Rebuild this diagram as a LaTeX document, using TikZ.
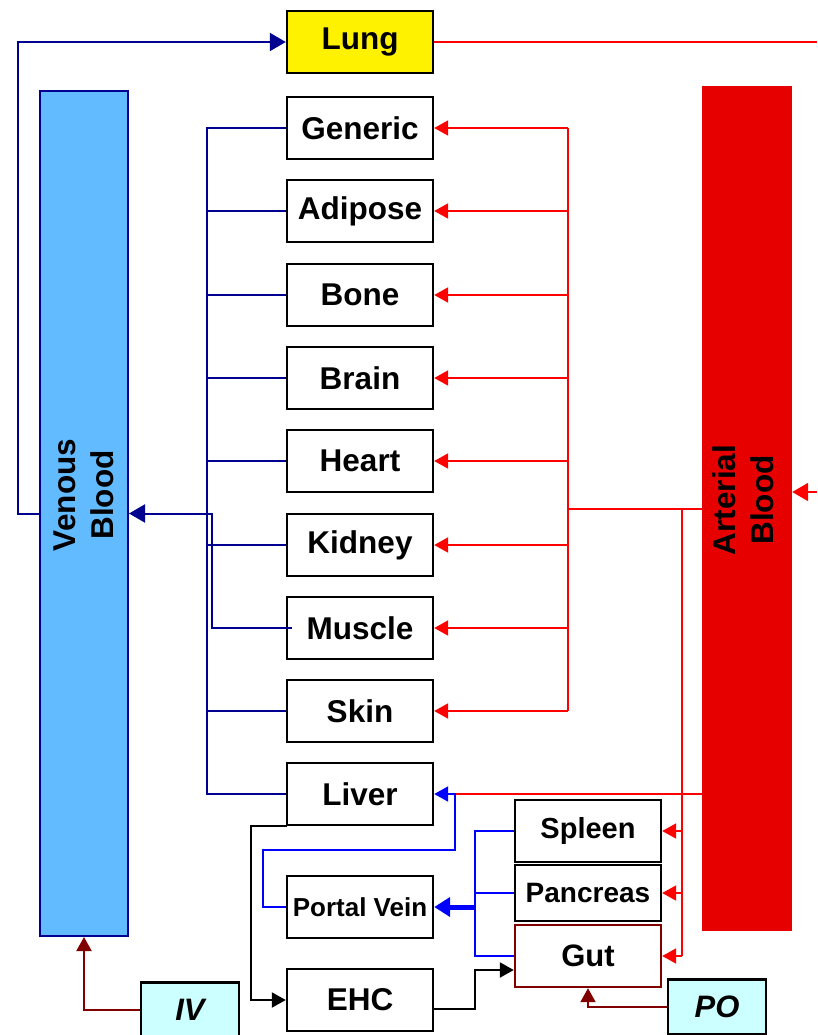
\documentclass[tikz,border=0pt]{standalone}
\usepackage{fontspec}
\setmainfont{Liberation Sans}
\usetikzlibrary{arrows.meta}
\definecolor{navyline}{RGB}{0,0,144}
\definecolor{redline}{RGB}{255,0,0}
\definecolor{blueline}{RGB}{0,0,255}
\definecolor{darkred}{RGB}{128,0,0}
\definecolor{venfill}{RGB}{99,187,255}
\definecolor{artfill}{RGB}{230,0,0}
\definecolor{cyanfill}{RGB}{204,255,255}
\begin{document}
\begin{tikzpicture}[x=1pt,y=-1pt,
  organ/.style={draw=black, line width=2.4pt, fill=white, minimum width=146pt, minimum height=62pt, inner sep=0pt, font=\fontsize{31.5}{36}\selectfont\bfseries},
  small/.style={organ, font=\fontsize{29}{34}\selectfont\bfseries},
  route/.style={draw=black, line width=2.4pt, fill=cyanfill, minimum width=98pt, minimum height=55pt, inner sep=0pt, font=\fontsize{31}{36}\selectfont\bfseries\itshape},
  pool/.style={inner sep=0pt, align=center, font=\fontsize{31.5}{38}\selectfont\bfseries},
  tip/.tip={Triangle[length=14pt,width=15pt]},
  bigtip/.tip={Triangle[length=16pt,width=18pt]},
  ven/.style={draw=navyline, line width=2pt},
  art/.style={draw=redline, line width=2pt},
  port/.style={draw=blueline, line width=2pt},
  blk/.style={draw=black, line width=2pt},
  drk/.style={draw=darkred, line width=2pt}
]
\useasboundingbox (0,0) rectangle (817,1035);

% pools
\node[pool, draw=navyline, line width=2pt, fill=venfill, minimum width=88pt, minimum height=845pt] (venous) at (84,513.5) {};
\node[pool, rotate=90] (venlabel) at (84,495) {Venous\\Blood};
\node[pool, fill=artfill, minimum width=90pt, minimum height=845pt] (arterial) at (747,508.5) {};
\node[pool, rotate=90] (artlabel) at (743,500) {Arterial\\Blood};

% organs
\node[organ, fill=yellow] (lung) at (360,42) {Lung};
\node[organ] (generic) at (360,128) {Generic};
\node[organ] (adipose) at (360,211) {Adipose};
\node[organ] (bone) at (360,295) {Bone};
\node[organ] (brain) at (360,378) {Brain};
\node[organ] (heart) at (360,461) {Heart};
\node[organ] (kidney) at (360,545) {Kidney};
\node[organ] (muscle) at (360,628) {Muscle};
\node[organ] (skin) at (360,711) {Skin};
\node[organ] (liver) at (360,794) {Liver};
\node[organ, font=\fontsize{26}{30}\selectfont\bfseries] (portal) at (360,907) {Portal Vein};
\node[organ] (ehc) at (360,1000) {EHC};
\node[small] (spleen) at (588,831) {Spleen};
\node[small, minimum height=56pt, font=\fontsize{28}{32}\selectfont\bfseries] (pancreas) at (588,893) {Pancreas};
\node[small, draw=darkred, font=\fontsize{31}{36}\selectfont\bfseries] (gut) at (588,956) {Gut};
\node[route] (iv) at (190,1010) {IV};
\node[route] (po) at (717,1007) {PO};

% coordinates
\coordinate (vx) at (207,0);
\coordinate (vx2) at (212,0);
\coordinate (ax) at (568,0);
\coordinate (bx) at (682,0);
\coordinate (px) at (455,0);
\coordinate (qx) at (475,0);
\coordinate (pv1) at (263,850);
\coordinate (pv2) at (455,850);
\coordinate (rimtop) at (817,42);
\coordinate (rimart) at (817,492);
\coordinate (eh1) at (251,826);
\coordinate (eg) at (475,970);
\coordinate (lx) at (18,0);

% venous return
\draw[ven,-bigtip] (venous.west) -- (venous.west -| lx) |- (lung.west);
\draw[ven] (generic.west) -- (generic.west -| vx) -- (liver.west -| vx) -- (liver.west);
\foreach \n in {adipose,bone,brain,heart,kidney,skin}
  \draw[ven] (\n.west) -- (\n.west -| vx);
\draw[ven,-bigtip] ([xshift=6pt]muscle.west) -| (vx2 |- venous.east) -- (venous.east);

% lung to arterial
\draw[art] (lung.east) -- (rimtop);
\draw[art,-bigtip] (rimart) -- (arterial.east |- rimart);

% arterial supply
\draw[art] (arterial.west) -- (ax |- arterial.west);
\draw[art] (ax |- generic.east) -- (ax |- skin.east);
\foreach \n in {generic,adipose,bone,brain,heart,kidney,muscle,skin}
  \draw[art,-tip] (ax |- \n.east) -- (\n.east);
\draw[art] (bx |- arterial.west) -- (bx |- gut.east);
\foreach \n in {spleen,pancreas,gut}
  \draw[art,-tip] (bx |- \n.east) -- (\n.east);
\draw[art] (arterial.west |- liver.east) -- (px |- liver.east);

% portal system
\draw[port] (spleen.west) -| (qx |- gut.west) -- (gut.west);
\draw[port] (pancreas.west) -- (qx |- pancreas.west);
\draw[port,line width=5pt,-{Triangle[length=16pt,width=19pt]}] (qx |- portal.east) -- (portal.east);
\draw[port,-tip] (portal.west) -| (pv1) -- (pv2) -- (pv2 |- liver.east) -- (liver.east);

% biliary
\draw[blk,-tip] (liver.south west) |- (eh1) |- (ehc.west);
\draw[blk,-tip] ([yshift=-9pt]ehc.east) -| (eg) -- (eg -| gut.west);

% dosing
\draw[drk,-tip] (iv.west) -| (venous.south);
\draw[drk,-tip] (po.west) -| (gut.south);
\end{tikzpicture}
\end{document}
